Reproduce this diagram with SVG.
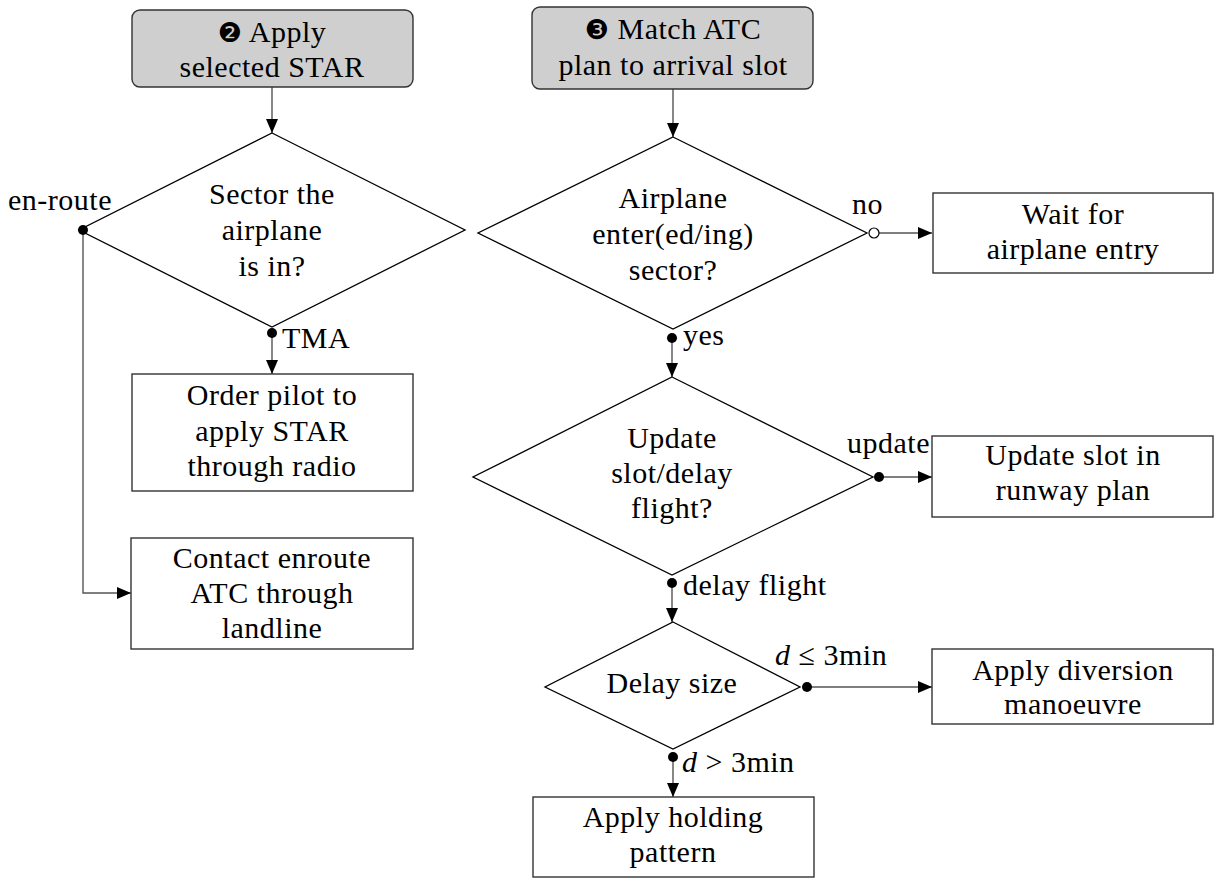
<svg xmlns="http://www.w3.org/2000/svg" width="1214" height="878" viewBox="0 0 1214 878">
<style>
  text { font-family: "Liberation Serif", "Times New Roman", serif; font-size: 30px; fill: #000; letter-spacing: 0.5px; }
  .c { text-anchor: middle; }
  .e { text-anchor: end; }
  .num { font-family: "DejaVu Sans", sans-serif; font-size: 27px; }
  .start { fill: #cfcfcf; stroke: #333; stroke-width: 1.4; }
  .box { fill: #fff; stroke: #333; stroke-width: 1.4; }
  .dec { fill: #fff; stroke: #000; stroke-width: 1.3; }
  .conn { fill: none; stroke: #555; stroke-width: 1.4; }
  .dot { fill: #000; }
  .odot { fill: #fff; stroke: #000; stroke-width: 1.2; }
</style>
<defs>
  <marker id="arr" viewBox="0 0 14 12" refX="14" refY="6" markerWidth="14" markerHeight="12" markerUnits="userSpaceOnUse" orient="auto">
    <path d="M0,0 L14,6 L0,12 Z" fill="#000"/>
  </marker>
</defs>

<g id="connectors">
  <path class="conn" d="M272,87 V133" marker-end="url(#arr)"/>
  <path class="conn" d="M673,89 V137" marker-end="url(#arr)"/>
  <path class="conn" d="M83,230 V593 H131" marker-end="url(#arr)"/>
  <path class="conn" d="M272,333 V374" marker-end="url(#arr)"/>
  <path class="conn" d="M874,233 H932" marker-end="url(#arr)"/>
  <path class="conn" d="M672,338 V377" marker-end="url(#arr)"/>
  <path class="conn" d="M879,477 H932" marker-end="url(#arr)"/>
  <path class="conn" d="M672,583 V622" marker-end="url(#arr)"/>
  <path class="conn" d="M807,687 H932" marker-end="url(#arr)"/>
  <path class="conn" d="M673,757 V797" marker-end="url(#arr)"/>
</g>

<g id="n2">
  <rect class="start" x="132" y="10" width="281" height="77" rx="8"/>
  <text class="c" x="272" y="42"><tspan class="num">❷</tspan> Apply</text>
  <text class="c" x="272" y="77">selected STAR</text>
</g>

<g id="n3">
  <rect class="start" x="532" y="7" width="281" height="82" rx="8"/>
  <text class="c" x="673" y="39"><tspan class="num">❸</tspan> Match ATC</text>
  <text class="c" x="673" y="75">plan to arrival slot</text>
</g>

<g id="d1">
  <polygon class="dec" points="272,133 465,230 272,327 79,230"/>
  <text class="c" x="272" y="204">Sector the</text>
  <text class="c" x="272" y="240">airplane</text>
  <text class="c" x="272" y="276">is in?</text>
</g>

<g id="d2">
  <polygon class="dec" points="673,137 867,233 673,329 478,233"/>
  <text class="c" x="673" y="208">Airplane</text>
  <text class="c" x="673" y="244">enter(ed/ing)</text>
  <text class="c" x="673" y="280">sector?</text>
</g>

<g id="d3">
  <polygon class="dec" points="672,377 873,477 672,575 473,477"/>
  <text class="c" x="672" y="448">Update</text>
  <text class="c" x="672" y="483">slot/delay</text>
  <text class="c" x="672" y="518">flight?</text>
</g>

<g id="d4">
  <polygon class="dec" points="673,622 800,687 673,749 545,687"/>
  <text class="c" x="672" y="693">Delay size</text>
</g>

<g id="order">
  <rect class="box" x="132" y="374" width="281" height="117"/>
  <text class="c" x="272" y="405">Order pilot to</text>
  <text class="c" x="272" y="441">apply STAR</text>
  <text class="c" x="272" y="476">through radio</text>
</g>

<g id="contact">
  <rect class="box" x="131" y="538" width="282" height="111"/>
  <text class="c" x="272" y="568">Contact enroute</text>
  <text class="c" x="272" y="603">ATC through</text>
  <text class="c" x="272" y="638">landline</text>
</g>

<g id="wait">
  <rect class="box" x="933" y="193" width="280" height="80"/>
  <text class="c" x="1073" y="224">Wait for</text>
  <text class="c" x="1073" y="259">airplane entry</text>
</g>

<g id="updslot">
  <rect class="box" x="932" y="436" width="281" height="81"/>
  <text class="c" x="1073" y="465">Update slot in</text>
  <text class="c" x="1073" y="500">runway plan</text>
</g>

<g id="diversion">
  <rect class="box" x="932" y="649" width="281" height="75"/>
  <text class="c" x="1073" y="680">Apply diversion</text>
  <text class="c" x="1073" y="714">manoeuvre</text>
</g>

<g id="holding">
  <rect class="box" x="533" y="797" width="281" height="80"/>
  <text class="c" x="673" y="827">Apply holding</text>
  <text class="c" x="673" y="862">pattern</text>
</g>

<g id="labels">
  <circle class="dot" cx="83" cy="230" r="5"/>
  <text x="8" y="210">en-route</text>
  <circle class="dot" cx="272" cy="333" r="5"/>
  <text x="282" y="348">TMA</text>
  <circle class="odot" cx="874" cy="233" r="5"/>
  <text x="852" y="214">no</text>
  <circle class="dot" cx="672" cy="338" r="5"/>
  <text x="683" y="345">yes</text>
  <circle class="dot" cx="879" cy="477" r="5"/>
  <text class="e" x="930" y="453">update</text>
  <circle class="dot" cx="672" cy="583" r="5"/>
  <text x="683" y="595">delay flight</text>
  <circle class="dot" cx="807" cy="687" r="5"/>
  <text x="775" y="665"><tspan font-style="italic">d</tspan> ≤ 3min</text>
  <circle class="dot" cx="673" cy="757" r="5"/>
  <text x="682" y="772"><tspan font-style="italic">d</tspan> &gt; 3min</text>
</g>
</svg>
